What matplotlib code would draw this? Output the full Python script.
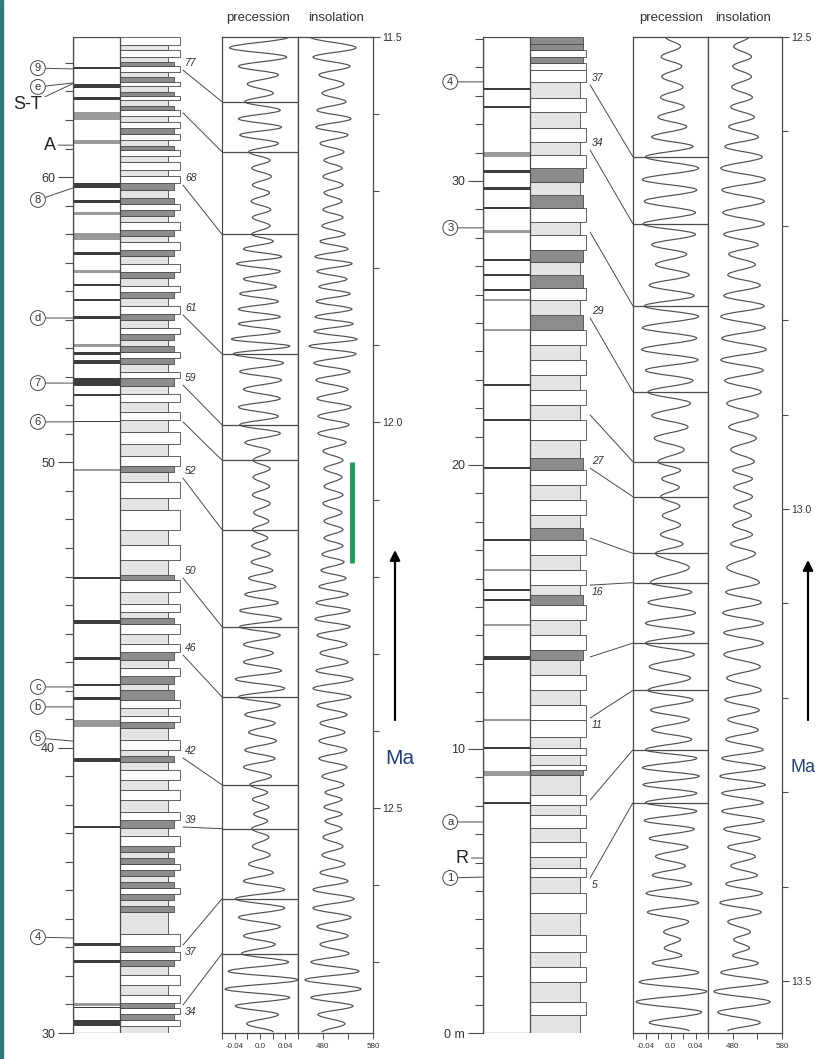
import matplotlib
matplotlib.use('Agg')
import matplotlib.pyplot as plt
from matplotlib.patches import Rectangle, ConnectionPatch, PathPatch
from matplotlib.path import Path
from matplotlib.ticker import FixedLocator, MultipleLocator

plt.rcParams['font.family'] = ['Liberation Sans', 'DejaVu Sans']

# ---------------- left section (30 - 65 m, 11.5 - 12.8 Ma) ----------------
bed_z_L = [30.00, 30.25, 30.46, 30.67, 30.88, 31.05, 31.33, 31.68, 32.03, 32.35,
           32.56, 32.84, 33.05, 33.47, 34.24, 34.45, 34.66, 34.87, 35.08, 35.29,
           35.50, 35.71, 35.92, 36.13, 36.34, 36.55, 36.90, 37.19, 37.47, 37.75,
           38.17, 38.52, 38.87, 39.22, 39.50, 39.71, 39.92, 40.27, 40.69, 40.90,
           41.11, 41.39, 41.67, 42.02, 42.23, 42.51, 42.79, 43.07, 43.35, 43.63,
           43.99, 44.34, 44.55, 44.76, 45.04, 45.46, 45.88, 46.05, 46.58, 47.10,
           47.63, 48.33, 48.75, 49.31, 49.66, 49.87, 50.22, 50.64, 51.07, 51.49,
           51.77, 52.12, 52.40, 52.68, 52.96, 53.17, 53.45, 53.66, 53.87, 54.08,
           54.29, 54.50, 54.71, 54.99, 55.20, 55.48, 55.76, 55.97, 56.18, 56.46,
           56.67, 56.95, 57.23, 57.44, 57.73, 57.94, 58.15, 58.43, 58.64, 58.85,
           59.06, 59.27, 59.55, 59.79, 60.04, 60.25, 60.53, 60.74, 60.95, 61.09,
           61.30, 61.51, 61.72, 61.93, 62.14, 62.35, 62.49, 62.70, 62.84, 62.98,
           63.19, 63.33, 63.51, 63.68, 63.89, 64.03, 64.21, 64.45, 64.63, 64.91]
bed_kind_L = ("gwdwdwgwgd" "wdwgdgdwdg" "dwdgdwgdwg" "wgwgdgwgdw" "gwdgdwgdwg"
              "wdgwgwdgwg" "wgwgdwgwgw" "gwgdwgdwdg" "dwgdwgdwgd" "wgdwgdwgdw"
              "dgdwgwgwdg" "wdwgwdgwdg" "wdgwdgwgw")

band_bot_L = [63.79, 63.12, 62.70, 62.00, 61.16, 59.62, 59.09, 58.67, 57.80, 57.27,
              56.64, 56.17, 55.64, 55.03, 54.06, 53.76, 53.45, 52.68, 52.33, 51.40,
              49.71, 45.92, 44.34, 43.07, 42.17, 41.67, 40.73, 39.50, 37.19, 33.05,
              32.45, 30.95, 30.86, 30.25]
band_top_L = [63.86, 63.26, 62.80, 62.28, 61.30, 59.79, 59.20, 58.78, 58.05, 57.37,
              56.74, 56.24, 55.71, 55.13, 54.14, 53.87, 53.59, 52.96, 52.40, 51.45,
              49.76, 45.99, 44.48, 43.18, 42.24, 41.78, 40.97, 39.64, 37.26, 33.15,
              32.56, 31.05, 30.91, 30.46]
band_kind_L = "ddd mmddmmdmdddmddddd mdddddmddddmdd".replace(" ", "")

prec_age_L = [11.500, 11.514, 11.526, 11.538, 11.549, 11.561, 11.573, 11.584, 11.595, 11.606,
              11.617, 11.627, 11.638, 11.649, 11.660, 11.670, 11.681, 11.692, 11.702, 11.713,
              11.724, 11.734, 11.745, 11.756, 11.765, 11.775, 11.785, 11.794, 11.804, 11.814,
              11.824, 11.833, 11.843, 11.853, 11.863, 11.872, 11.882, 11.892, 11.901, 11.911,
              11.923, 11.934, 11.945, 11.957, 11.969, 11.980, 11.992, 12.003, 12.014, 12.026,
              12.037, 12.049, 12.060, 12.071, 12.083, 12.094, 12.105, 12.117, 12.128, 12.139,
              12.150, 12.160, 12.171, 12.181, 12.192, 12.202, 12.213, 12.223, 12.234, 12.244,
              12.255, 12.265, 12.276, 12.288, 12.299, 12.311, 12.322, 12.333, 12.345, 12.356,
              12.367, 12.379, 12.390, 12.402, 12.413, 12.425, 12.436, 12.447, 12.459, 12.470,
              12.480, 12.489, 12.499, 12.508, 12.517, 12.527, 12.538, 12.550, 12.561, 12.573,
              12.584, 12.595, 12.606, 12.618, 12.630, 12.642, 12.654, 12.666, 12.677, 12.689,
              12.700, 12.712, 12.723, 12.735, 12.746, 12.757, 12.768, 12.780, 12.791]
prec_L = [0.045, -0.048, 0.042, -0.034, 0.029, -0.020, 0.021, -0.024, 0.032, -0.034,
          0.034, -0.032, 0.029, -0.018, 0.016, -0.013, 0.018, -0.012, 0.015, -0.014,
          0.017, -0.012, 0.016, -0.013, 0.021, -0.026, 0.034, -0.037, 0.032, -0.026,
          0.026, -0.032, 0.029, -0.034, 0.032, -0.034, 0.032, -0.045, 0.047, -0.042,
          0.037, -0.032, 0.034, -0.026, 0.032, -0.034, 0.029, -0.032, 0.032, -0.024,
          0.016, -0.011, 0.016, -0.011, 0.015, -0.012, 0.016, -0.010, 0.014, -0.012,
          0.012, -0.013, 0.016, -0.014, 0.020, -0.018, 0.025, -0.024, 0.029, -0.032,
          0.034, -0.032, 0.032, -0.026, 0.021, -0.026, 0.034, -0.039, 0.039, -0.034,
          0.032, -0.024, 0.024, -0.018, 0.026, -0.024, 0.024, -0.026, 0.018, -0.016,
          0.012, -0.012, 0.014, -0.010, 0.012, -0.013, 0.014, -0.012, 0.016, -0.018,
          0.021, -0.026, 0.039, -0.039, 0.039, -0.034, 0.032, -0.026, 0.024, -0.029,
          0.045, -0.050, 0.060, -0.055, 0.047, -0.039, 0.029, -0.021, 0.021]
insol_L = [455, 546, 460, 534, 472, 522, 478, 526, 468, 536,
           466, 530, 474, 522, 482, 518, 480, 520, 482, 518,
           480, 520, 478, 524, 474, 530, 464, 538, 468, 528,
           472, 534, 466, 538, 464, 540, 462, 548, 452, 546,
           462, 534, 466, 530, 468, 536, 470, 532, 470, 526,
           480, 520, 482, 518, 482, 520, 480, 518, 482, 520,
           482, 520, 478, 522, 476, 526, 472, 530, 466, 534,
           464, 534, 468, 528, 474, 530, 466, 540, 460, 536,
           468, 528, 474, 524, 472, 528, 472, 528, 478, 522,
           484, 518, 482, 518, 484, 518, 480, 520, 478, 524,
           474, 530, 460, 542, 460, 536, 468, 530, 474, 532,
           456, 552, 444, 556, 456, 540, 470, 524, 478]

tie_depth_L = [63.75, 62.25, 59.72, 55.17, 52.71, 51.42, 49.45, 45.95, 43.25, 39.64, 37.22, 33.08, 30.98]
tie_age_L = [11.584, 11.649, 11.756, 11.911, 12.003, 12.049, 12.139, 12.265, 12.356, 12.470, 12.527, 12.618, 12.689]
tie_label_L = ['77', '', '68', '61', '59', '', '52', '50', '46', '42', '39', '37', '34']

circ_text_L = ['9', 'e', '8', 'd', '7', '6', 'c', 'b', '5', '4']
circ_depth_L = [63.82, 63.16, 59.20, 55.06, 52.78, 51.42, 42.13, 41.43, 40.34, 33.36]
circ_line_L = [63.79, 63.30, 59.62, 55.06, 52.78, 51.42, 42.13, 41.43, 40.23, 33.33]
mark_text_L = ['S-T', 'A']
mark_depth_L = [62.53, 61.12]
mark_line_L = [63.28, 61.12]
mark_x_L = [-0.385, -0.20]

# ---------------- right section (0 - 35 m, 12.5 - 13.55 Ma) ----------------
bed_z_R = [0.00, 0.63, 1.09, 1.80, 2.32, 2.85, 3.45, 4.23, 4.93, 5.49,
           5.81, 6.20, 6.73, 7.22, 7.68, 8.03, 8.38, 9.08, 9.26, 9.44,
           9.79, 10.04, 10.42, 11.02, 11.55, 12.08, 12.61, 13.13, 13.49, 14.01,
           14.54, 15.07, 15.42, 15.77, 16.30, 16.83, 17.36, 17.78, 18.24, 18.77,
           19.30, 19.82, 20.25, 20.88, 21.58, 22.11, 22.64, 23.17, 23.70, 24.23,
           24.75, 25.28, 25.81, 26.23, 26.69, 27.15, 27.57, 28.10, 28.56, 29.05,
           29.51, 29.96, 30.46, 30.92, 31.37, 31.87, 32.43, 32.92, 33.49, 33.91,
           34.15, 34.37, 34.61, 34.82, 35.07]
bed_kind_R = ("gwgwgwgwgw" "gwgwgwgdwg" "wgwwgwgdwg" "wdgwgwdgwg" "wdgwgwgwgw"
              "dgwdgdwgwd" "gdwgwgwgww" "dwdd")

band_bot_R = [33.20, 32.57, 30.85, 30.28, 29.68, 29.01, 28.17, 27.18, 26.65, 26.12,
              25.78, 24.71, 22.79, 21.55, 19.85, 17.32, 16.26, 15.56, 15.21, 14.33,
              13.13, 10.99, 10.00, 9.06, 8.07, 5.50]
band_top_R = [33.28, 32.65, 31.02, 30.39, 29.79, 29.09, 28.27, 27.26, 26.73, 26.20,
              25.85, 24.79, 22.85, 21.62, 19.93, 17.40, 16.34, 15.64, 15.29, 14.41,
              13.27, 11.05, 10.08, 9.22, 8.13, 5.57]
band_kind_R = "ddmdddmdddmmdddd mddmdmdmd".replace(" ", "")

prec_age_R = [12.500, 12.510, 12.521, 12.531, 12.542, 12.553, 12.564, 12.574, 12.585, 12.595,
              12.606, 12.616, 12.627, 12.639, 12.651, 12.662, 12.674, 12.686, 12.698, 12.709,
              12.720, 12.730, 12.741, 12.752, 12.763, 12.774, 12.785, 12.796, 12.808, 12.819,
              12.831, 12.842, 12.853, 12.864, 12.876, 12.888, 12.901, 12.913, 12.925, 12.937,
              12.950, 12.959, 12.968, 12.977, 12.987, 12.997, 13.007, 13.017, 13.027, 13.037,
              13.047, 13.062, 13.078, 13.088, 13.099, 13.110, 13.121, 13.131, 13.142, 13.154,
              13.167, 13.179, 13.192, 13.202, 13.213, 13.223, 13.234, 13.244, 13.255, 13.264,
              13.274, 13.283, 13.292, 13.301, 13.311, 13.320, 13.330, 13.339, 13.349, 13.358,
              13.368, 13.378, 13.388, 13.397, 13.407, 13.417, 13.427, 13.437, 13.448, 13.456,
              13.465, 13.473, 13.481, 13.491, 13.501, 13.511, 13.522, 13.533, 13.544, 13.553]
prec_R = [-0.008, 0.016, -0.015, 0.018, -0.014, 0.020, -0.016, 0.022, -0.020, 0.026,
          -0.030, 0.036, -0.040, 0.045, -0.045, 0.042, -0.042, 0.040, -0.044, 0.040,
          -0.030, 0.026, -0.024, 0.030, -0.034, 0.038, -0.042, 0.045, -0.045, 0.042,
          -0.046, 0.044, -0.040, 0.036, -0.036, 0.032, -0.030, 0.028, -0.026, 0.022,
          -0.020, 0.016, -0.014, 0.014, -0.016, 0.015, -0.013, 0.016, -0.016, 0.020,
          -0.024, 0.030, -0.032, 0.034, -0.036, 0.040, -0.040, 0.038, -0.040, 0.038,
          -0.034, 0.032, -0.036, 0.036, -0.032, 0.030, -0.030, 0.034, -0.040, 0.042,
          -0.045, 0.046, -0.044, 0.042, -0.040, 0.042, -0.042, 0.038, -0.034, 0.028,
          -0.024, 0.024, -0.029, 0.034, -0.039, 0.045, -0.037, 0.029, -0.011, 0.016,
          -0.010, 0.018, -0.029, 0.045, -0.050, 0.058, -0.055, 0.050, -0.034, 0.030]
insol_R = [512, 482, 518, 480, 518, 478, 520, 476, 524, 472,
           532, 464, 540, 456, 546, 458, 544, 460, 544, 462,
           532, 472, 526, 470, 536, 462, 544, 456, 546, 458,
           548, 456, 542, 464, 538, 468, 532, 472, 528, 476,
           524, 480, 520, 482, 520, 482, 518, 480, 520, 476,
           526, 468, 534, 466, 538, 460, 542, 462, 542, 462,
           536, 468, 538, 464, 534, 470, 532, 466, 542, 458,
           546, 454, 546, 458, 542, 458, 544, 462, 536, 470,
           526, 476, 530, 466, 540, 454, 538, 470, 516, 482,
           514, 480, 532, 456, 552, 442, 556, 450, 536, 470]

tie_depth_R = [33.38, 31.09, 28.20, 25.18, 21.76, 19.89, 17.43, 15.77, 13.24, 11.09, 8.20, 5.46]
tie_age_R = [12.627, 12.698, 12.785, 12.876, 12.950, 12.987, 13.047, 13.078, 13.142, 13.192, 13.255, 13.311]
tie_label_R = ['37', '34', '', '29', '', '27', '', '16', '', '11', '', '5']

circ_text_R = ['4', '3', 'a', '1']
circ_depth_R = [33.49, 28.35, 7.43, 5.46]
circ_line_R = [33.49, 28.35, 7.43, 5.49]
mark_text_R = ['R']
mark_depth_R = [6.16]
mark_line_R = [6.16]
mark_x_R = [-0.18]

green_age = [12.051, 12.182]
green_insol = 538

W, H = 819, 1059
fig = plt.figure(figsize=(W / 100, H / 100), dpi=100)
fig.patch.set_facecolor('white')
INK = '#4a4a4a'
TXT = '#333333'
FILL = {'w': 'white', 'g': '#e4e4e4', 'd': '#8c8c8c'}
BAND = {'d': '#3c3c3c', 'm': '#9a9a9a'}


def px_axes(x0, y0, x1, y1):
    return fig.add_axes([x0 / W, 1 - y1 / H, (x1 - x0) / W, (y1 - y0) / H])


def wave(ax, ages, vals):
    # smooth curve through the read extrema (vertical tangent at each extremum)
    verts = [(vals[0], ages[0])]
    codes = [Path.MOVETO]
    for i in range(1, len(ages)):
        d = (ages[i] - ages[i - 1]) * 0.37
        verts += [(vals[i - 1], ages[i - 1] + d), (vals[i], ages[i] - d), (vals[i], ages[i])]
        codes += [Path.CURVE4] * 3
    ax.add_patch(PathPatch(Path(verts, codes), fill=False, ec='#505050', lw=0.85))


def panel(xl, xp, xi, xe, zlim, zmaj, zlab, bz, bk, wid, bb, bt, bkind,
          ages, prec, insol, alim, amaj, alab, td, ta, tl, tx,
          ct, cd, cl, cx, mt, md, ml, mx):
    # lithological log
    ax = px_axes(xl, 37, xl + 117, 1033)
    ax.set_xlim(0, 2.49)
    ax.set_ylim(*zlim)
    for s in ['top', 'right', 'bottom']:
        ax.spines[s].set_visible(False)
    ax.spines['left'].set_color(INK)
    ax.spines['left'].set_linewidth(0.9)
    ax.set_xticks([])
    ax.yaxis.set_major_locator(FixedLocator(zmaj))
    ax.set_yticklabels(zlab)
    ax.yaxis.set_minor_locator(MultipleLocator(1))
    ax.tick_params(axis='y', which='major', length=11, width=0.8, color=INK,
                   labelsize=9, pad=2, labelcolor=TXT)
    ax.tick_params(axis='y', which='minor', length=6, width=0.8, color=INK)
    ax.patch.set_alpha(0)
    for z0, z1, k in zip(bz[:-1], bz[1:], bk):
        ax.add_patch(Rectangle((1, z0), wid[k], z1 - z0, fc=FILL[k], ec=INK, lw=0.6))
    for z0, z1, k in zip(bb, bt, bkind):
        ax.add_patch(Rectangle((0, z0), 1, z1 - z0, fc=BAND[k], ec='none'))
    ax.add_patch(Rectangle((0, zlim[0]), 1, zlim[1] - zlim[0], fill=False, ec=INK, lw=0.9))

    # precession and insolation
    ap = px_axes(xp, 37, xi, 1033)
    ai = px_axes(xi, 37, xe, 1033)
    ap.set_xlim(-0.06, 0.06)
    ai.set_xlim(430, 580)
    for a in (ap, ai):
        a.set_ylim(alim[1], alim[0])
        for s in a.spines.values():
            s.set_color(INK)
            s.set_linewidth(0.9)
        a.tick_params(axis='x', which='both', direction='out', length=4.5, width=0.7,
                      color=INK, labelsize=5.8, pad=3, labelcolor=TXT)
    wave(ap, ages, prec)
    wave(ai, ages, insol)
    ap.set_xticks([-0.04, 0.0, 0.04], ['-0.04', '0.0', '0.04'])
    ap.xaxis.set_minor_locator(FixedLocator([-0.06, -0.02, 0.02, 0.06]))
    ap.set_yticks([])
    ai.set_xticks([480, 580], ['480', '580'])
    ai.xaxis.set_minor_locator(FixedLocator([530]))
    ai.yaxis.tick_right()
    ai.yaxis.set_major_locator(FixedLocator(amaj))
    ai.set_yticklabels(alab)
    ai.yaxis.set_minor_locator(MultipleLocator(0.1))
    ai.tick_params(axis='y', which='major', length=5, width=0.8, color=INK,
                   labelsize=7.5, pad=1.5, labelcolor=TXT)
    ai.tick_params(axis='y', which='minor', length=4, width=0.8, color=INK)

    # tie lines between log and precession curve
    for z, a, lab in zip(td, ta, tl):
        fig.add_artist(ConnectionPatch(xyA=(tx, z), coordsA=ax.transData,
                                       xyB=(-0.06, a), coordsB=ap.transData,
                                       color=INK, lw=0.7))
        ap.plot([-0.06, 0.06], [a, a], color=INK, lw=0.9)
        if lab:
            y0 = ax.transData.transform((0, z))[1]
            y1 = ap.transData.transform((0, a))[1]
            up = y1 <= y0
            ax.annotate(lab, xy=(tx, z), xytext=(1.5, 1.5 if up else -1.5),
                        textcoords='offset points', fontsize=7.5, style='italic',
                        va='bottom' if up else 'top', ha='left', color=TXT,
                        annotation_clip=False)

    # marker beds
    for t, zt, zl in zip(ct, cd, cl):
        ax.annotate(t, xy=(0, zl), xytext=(cx, zt), textcoords=ax.get_yaxis_transform(),
                    ha='center', va='center', fontsize=8, color=TXT,
                    bbox=dict(boxstyle='circle,pad=0.22', fc='white', ec=INK, lw=0.7),
                    arrowprops=dict(arrowstyle='-', color=INK, lw=0.7, shrinkA=0, shrinkB=0),
                    annotation_clip=False)
    for t, zt, zl, x in zip(mt, md, ml, mx):
        ax.annotate(t, xy=(0, zl), xytext=(x, zt), textcoords=ax.get_yaxis_transform(),
                    ha='center', va='center', fontsize=13, color='#222222',
                    arrowprops=dict(arrowstyle='-', color=INK, lw=0.7, shrinkA=0, shrinkB=0),
                    annotation_clip=False)
    return ai


wid_L = {'w': 1.27, 'g': 1.02, 'd': 1.15}
wid_R = {'w': 1.19, 'g': 1.06, 'd': 1.13}

ai_L = panel(73, 222, 298, 373, (30, 64.91), [30, 40, 50, 60], ['30', '40', '50', '60'],
             bed_z_L, bed_kind_L, wid_L, band_bot_L, band_top_L, band_kind_L,
             prec_age_L, prec_L, insol_L, (11.5, 12.792), [11.5, 12.0, 12.5],
             ['11.5', '12.0', '12.5'], tie_depth_L, tie_age_L, tie_label_L, 2.34,
             circ_text_L, circ_depth_L, circ_line_L, -0.30,
             mark_text_L, mark_depth_L, mark_line_L, mark_x_L)
ai_R = panel(483, 633, 708, 782, (0, 35.07), [0, 10, 20, 30], ['0 m', '10', '20', '30'],
             bed_z_R, bed_kind_R, wid_R, band_bot_R, band_top_R, band_kind_R,
             prec_age_R, prec_R, insol_R, (12.5, 13.555), [12.5, 13.0, 13.5],
             ['12.5', '13.0', '13.5'], tie_depth_R, tie_age_R, tie_label_R, 2.28,
             circ_text_R, circ_depth_R, circ_line_R, -0.28,
             mark_text_R, mark_depth_R, mark_line_R, mark_x_R)

ai_L.plot([green_insol, green_insol], green_age, color='#1e9e55', lw=3.5, solid_capstyle='butt')

# column headings, arrows and frame decoration
for xp in (258, 671):
    fig.text(xp / W, 1 - 18 / H, 'precession', ha='center', va='center', fontsize=9.5, color=TXT)
for xp in (336, 743):
    fig.text(xp / W, 1 - 18 / H, 'insolation', ha='center', va='center', fontsize=9.5, color=TXT)

ov = fig.add_axes([0, 0, 1, 1])
ov.set_xlim(0, W)
ov.set_ylim(H, 0)
ov.axis('off')
ov.add_patch(Rectangle((0, 0), 3, H, color='#2d7b7b'))
for xa, y0, y1 in [(395, 720, 550), (808, 720, 560)]:
    ov.annotate('', xy=(xa, y1), xytext=(xa, y0),
                arrowprops=dict(arrowstyle='-|>', lw=1.6, color='black', mutation_scale=15,
                                shrinkA=0, shrinkB=0))
ov.text(400, 758, 'Ma', ha='center', va='center', fontsize=15, color='#22407a')
ov.text(816, 768, 'Ma', ha='right', va='center', fontsize=13, color='#22407a')

fig.savefig('out.png', dpi=100)
